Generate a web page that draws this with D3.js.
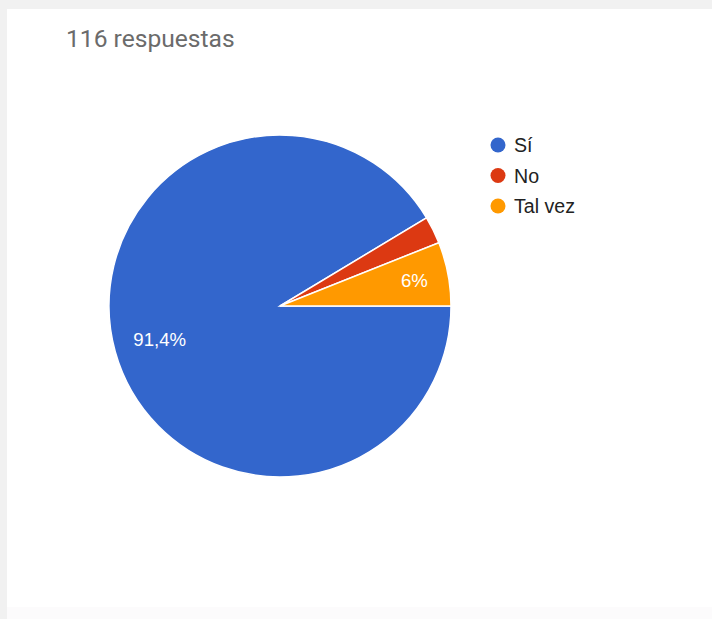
<!DOCTYPE html>
<html lang="es">
<meta charset="utf-8">
<head>
    <script src="https://d3js.org/d3.v7.min.js"></script>
    <style>
        body { margin: 0; background: #f1f1f1; }
    </style>
</head>
<body>
<script>

// data (116 respuestas)
var categories = ["Sí", "No", "Tal vez"];
var counts = [106, 3, 7];
var colors = ["#3366cc", "#dc3912", "#ff9900"];
var title = "116 respuestas";

var width = 712;
var height = 619;
var total = d3.sum(counts);

var svg = d3.select("body")
    .append("svg")
    .attr("width", width)
    .attr("height", height)
    .style("display", "block");

// card background
svg.append("rect")
    .attr("x", 0).attr("y", 0)
    .attr("width", width).attr("height", height)
    .attr("fill", "#f1f1f1");
svg.append("rect")
    .attr("x", 7).attr("y", 9)
    .attr("width", width).attr("height", height)
    .attr("fill", "#ffffff");
svg.append("rect")
    .attr("x", 7).attr("y", 607)
    .attr("width", width).attr("height", 12)
    .attr("fill", "#fcfbfc");

svg.append("text")
    .attr("x", 66)
    .attr("y", 47)
    .style("font-family", "Roboto")
    .style("font-size", "24.6px")
    .attr("fill", "#6b6b6b")
    .text(title);

// pie
var cx = 280, cy = 306, r = 171;

var data = categories.map(function(c, i) {
    return { name: c, value: counts[i], color: colors[i] };
});

var pie = d3.pie()
    .sort(null)
    .value(function(d) { return d.value; })
    .startAngle(Math.PI / 2)
    .endAngle(Math.PI / 2 + 2 * Math.PI);

var arc = d3.arc().innerRadius(0).outerRadius(r);

var g = svg.append("g")
    .attr("transform", "translate(" + cx + "," + cy + ")");

var slices = pie(data);

g.selectAll("path")
    .data(slices)
    .enter()
    .append("path")
    .attr("d", arc)
    .attr("fill", function(d) { return d.data.color; })
    .attr("stroke", "#ffffff")
    .attr("stroke-width", 1.5);

function fmt(p) {
    return String(Math.round(p * 1000) / 10).replace(".", ",") + "%";
}

// labels only on slices big enough to hold them
g.selectAll("text")
    .data(slices.filter(function(d) { return d.data.value / total >= 0.05; }))
    .enter()
    .append("text")
    .attr("transform", function(d) {
        var lr = d.data.value / total > 0.5 ? r * 0.73 : r * 0.8;
        var c = d3.arc().innerRadius(lr).outerRadius(lr).centroid(d);
        return "translate(" + c[0] + "," + c[1] + ")";
    })
    .attr("text-anchor", "middle")
    .attr("dy", "0.36em")
    .style("font-family", "Arial, 'Liberation Sans'")
    .style("font-size", "18.6px")
    .attr("fill", "#ffffff")
    .text(function(d) { return fmt(d.data.value / total); });

// legend
var legend = svg.append("g")
    .attr("transform", "translate(498,145)");

var items = legend.selectAll("g")
    .data(data)
    .enter()
    .append("g")
    .attr("transform", function(d, i) { return "translate(0," + (i * 30.5) + ")"; });

items.append("circle")
    .attr("r", 7.5)
    .attr("fill", function(d) { return d.color; });

items.append("text")
    .attr("x", 16)
    .attr("dy", "0.36em")
    .style("font-family", "Arial, 'Liberation Sans'")
    .style("font-size", "19.6px")
    .attr("fill", "#222222")
    .text(function(d) { return d.name; });

</script>
</body>
</html>
